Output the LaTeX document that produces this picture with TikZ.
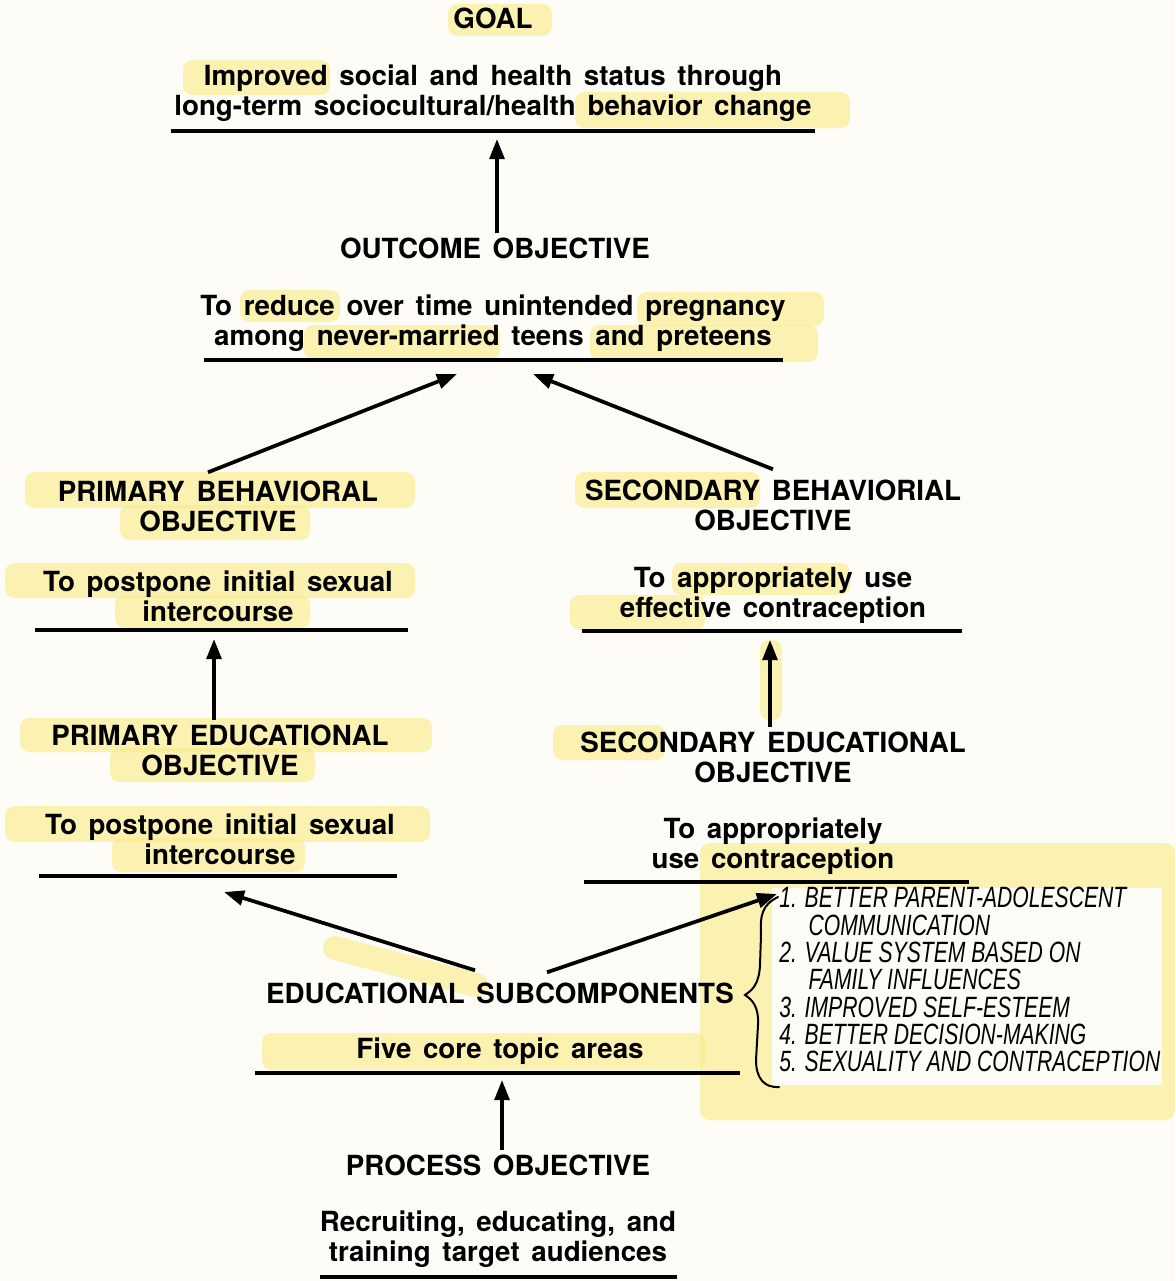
\documentclass[tikz,border=0pt]{standalone}
\usepackage{fontspec}
\setmainfont{TeX Gyre Heros}
\newfontfamily\handfont[FakeStretch=0.72]{Liberation Sans}
\usetikzlibrary{arrows.meta,calc}

\definecolor{paper}{RGB}{253,252,246}
\definecolor{marker}{RGB}{250,236,140}
\newcommand\widesp{\spaceskip=0.42em plus 0.1em\relax}

\begin{document}
\begin{tikzpicture}[x=0.75pt,y=0.75pt,yscale=-1,xscale=1,
    txt/.style={align=center,inner sep=3pt,font=\fontsize{20.8}{22.5}\selectfont\bfseries\widesp},
    rule/.style={line width=2.6pt},
    link/.style={line width=2.8pt,-{Triangle[length=15pt,width=11pt]}},
    hilite/.style={fill=marker,opacity=0.65,rounded corners=7},
    hand/.style={align=left,inner sep=0pt,font=\handfont\itshape\fontsize{22}{20.5}\selectfont}]
        %background, sets the page size
        \fill[paper] (0,0) rectangle (1175,1281);
        % marker highlights
        \fill[hilite] (448,4) rectangle (552,36);
        \fill[hilite] (183,60) rectangle (330,95);
        \fill[hilite] (575,92) rectangle (850,128);
        \fill[hilite] (240,290) rectangle (340,322);
        \fill[hilite] (637,292) rectangle (824,326);
        \fill[hilite] (304,325) rectangle (500,360);
        \fill[hilite] (590,325) rectangle (818,362);
        \fill[hilite] (25,472) rectangle (415,508);
        \fill[hilite] (120,505) rectangle (310,540);
        \fill[hilite] (575,472) rectangle (760,508);
        \fill[hilite] (5,563) rectangle (415,598);
        \fill[hilite] (115,595) rectangle (310,628);
        \fill[hilite] (672,563) rectangle (850,595);
        \fill[hilite] (570,595) rectangle (705,630);
        \fill[hilite] (760,640) rectangle (782,720);
        \fill[hilite] (20,718) rectangle (432,752);
        \fill[hilite] (110,748) rectangle (315,782);
        \fill[hilite] (553,725) rectangle (665,760);
        \fill[hilite] (5,806) rectangle (430,842);
        \fill[hilite] (112,838) rectangle (305,872);
        \fill[hilite] (700,843) rectangle (1175,1120);
        \fill[hilite] (262,1033) rectangle (705,1070);
        \draw[marker,opacity=0.65,line width=18pt,line cap=round] (335,948) -- (476,985);
        \fill[paper] (772,888) rectangle (1162,1085);
        % Text Nodes
        \node[txt] (goalhead) at (493,18) {GOAL};
        \node[txt] (goaltxt) at (493,93) {Improved social and health status through\\long-term sociocultural/health behavior change};
        \node[txt] (outhead) at (495,248) {OUTCOME OBJECTIVE};
        \node[txt] (outtxt) at (493,323) {To reduce over time unintended pregnancy\\among never-married teens and preteens};
        \node[txt] (pbhead) at (218,506) {PRIMARY BEHAVIORAL\\OBJECTIVE};
        \node[txt] (sbhead) at (773,505) {SECONDARY BEHAVIORIAL\\OBJECTIVE};
        \node[txt] (pbtxt) at (218,596) {To postpone initial sexual\\intercourse};
        \node[txt] (sbtxt) at (773,595) {To appropriately use\\effective contraception};
        \node[txt] (pehead) at (220,750) {PRIMARY EDUCATIONAL\\OBJECTIVE};
        \node[txt] (sehead) at (773,757) {SECONDARY EDUCATIONAL\\OBJECTIVE};
        \node[txt] (petxt) at (220,839) {To postpone initial sexual\\intercourse};
        \node[txt] (setxt) at (773,846) {To appropriately\\use contraception};
        \node[txt] (subhead) at (500,993) {EDUCATIONAL SUBCOMPONENTS};
        \node[txt] (subtxt) at (500,1051) {Five core topic areas};
        \node[txt] (prochead) at (498,1165) {PROCESS OBJECTIVE};
        \node[txt] (proctxt) at (498,1239) {Recruiting, educating, and\\training target audiences};
        \node[hand,anchor=north west] (topics) at (779,887) {1. BETTER PARENT-ADOLESCENT\\
            \quad COMMUNICATION\\2. VALUE SYSTEM BASED ON\\\quad FAMILY INFLUENCES\\
            3. IMPROVED SELF-ESTEEM\\4. BETTER DECISION-MAKING\\5. SEXUALITY AND CONTRACEPTION};
        % underlines
        \draw[rule] (171,131) -- (815,131);
        \draw[rule] (204,360) -- (783,360);
        \draw[rule] (35,630) -- (408,630);
        \draw[rule] (582,631) -- (962,631);
        \draw[rule] (39,876) -- (397,876);
        \draw[rule] (584,882) -- (969,882);
        \draw[rule] (255,1073) -- (740,1073);
        \draw[rule] (320,1277) -- (677,1277);
        % arrow ends below the lines
        \coordinate (goalbar) at (497,139);
        \coordinate (outL) at (457,374);
        \coordinate (outR) at (533,374);
        \coordinate (pbbar) at (214,639);
        \coordinate (sbbar) at (770,640);
        \coordinate (peL) at (224,892);
        \coordinate (seR) at (777,894);
        \coordinate (subbar) at (502,1080);
        % arrows
        \draw[link] (outhead.north -| goalbar) -- (goalbar);
        \draw[link] ($(pbhead.north)+(-10,-4)$) -- (outL);
        \draw[link] ($(sbhead.north)+(0,-6)$) -- (outR);
        \draw[link] (pehead.north -| pbbar) -- (pbbar);
        \draw[link] (sehead.north -| sbbar) -- (sbbar);
        \draw[link] ($(subhead.north)+(-25,-8)$) -- (peL);
        \draw[link] ($(subhead.north)+(47,-6)$) -- (seR);
        \draw[link] (prochead.north -| subbar) -- (subbar);
        % hand drawn brace
        \draw[line width=1.5pt,line cap=round] (778,897) .. controls (762,905) and (760,915) .. (761,935)
            -- (760,965) .. controls (759,985) and (752,990) .. (745,995)
            .. controls (753,1000) and (759,1008) .. (758,1025)
            -- (756,1060) .. controls (756,1078) and (764,1088) .. (779,1087);
\end{tikzpicture}
\end{document}
